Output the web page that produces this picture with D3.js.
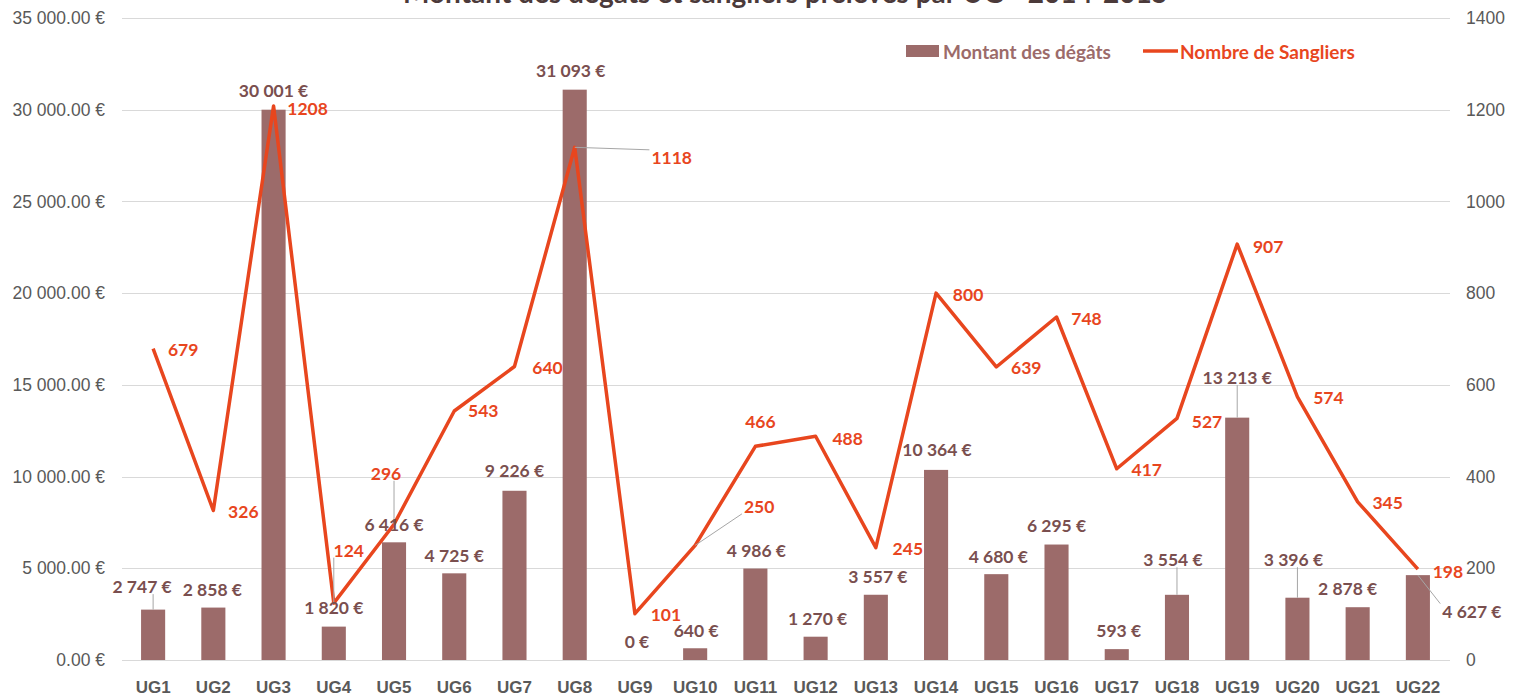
<!DOCTYPE html>
<html>
<head>
<meta charset="utf-8">
<script src="https://cdn.jsdelivr.net/npm/d3@7"></script>
<style>
  body { margin: 0; background: #fff; }
  svg { display: block; font-family: Lato, "Open Sans", sans-serif; }
</style>
</head>
<body>
<script>

// data //
const categories = ["UG1","UG2","UG3","UG4","UG5","UG6","UG7","UG8","UG9","UG10","UG11",
                    "UG12","UG13","UG14","UG15","UG16","UG17","UG18","UG19","UG20","UG21","UG22"];
const degats = [2747, 2858, 30001, 1820, 6416, 4725, 9226, 31093, 0, 640, 4986,
                1270, 3557, 10364, 4680, 6295, 593, 3554, 13213, 3396, 2878, 4627];
const sangliers = [679, 326, 1208, 124, 296, 543, 640, 1118, 101, 250, 466,
                   488, 245, 800, 639, 748, 417, 527, 907, 574, 345, 198];
const leftTicks = [0, 5000, 10000, 15000, 20000, 25000, 30000, 35000];
const rightTicks = [0, 200, 400, 600, 800, 1000, 1200, 1400];

// label placement (pixel nudges, as moved by hand in the original) //
const barLabelNudge = [[-11,-23],[-1,-18],[0,-19],[0,-19],[0,-18],[0,-18],[0,-20],[-4,-19],[2,-19],[1,-18],[1,-18],
                       [2,-18],[2,-18],[1,-20],[2,-18],[0,-19],[2,-19],[-4,-35],[0,-40],[-4,-38],[-10,-19],[54,36]];
const barLeader = [1,0,0,0,0,0,0,0,0,0,0, 0,0,0,0,0,0,1,1,1,0,1];
const lineLabelNudge = [[30,1],[30,1],[34,2],[15,-53],[-8,-51],[29,0],[33,1],[97,10],[31,1],[64,-39],[5,-25],
                        [32,2],[32,1],[32,1],[30,1],[30,2],[30,1],[30,3],[31,2],[31,1],[30,1],[30,2]];
const lineLeader = [0,0,0,1,1,0,0,1,0,1,0, 0,0,0,0,0,0,0,0,0,0,0];

const W = 1523, H = 699;
const plotLeft = 123, plotRight = 1448, plotTop = 18, plotBottom = 660;

const barColor = "#9c6b6a";
const lineColor = "#e8461e";
const barText = "#7a4f4f";
const axisText = "#595959";

const svg = d3.select("body").append("svg")
  .attr("width", W)
  .attr("height", H);

// scales //
const x = d3.scaleBand()
  .domain(categories)
  .range([plotLeft, plotRight])
  .paddingInner(0.6)
  .paddingOuter(0.3);

const yL = d3.scaleLinear().domain([0, 35000]).range([plotBottom, plotTop]);
const yR = d3.scaleLinear().domain([0, 1400]).range([plotBottom, plotTop]);

const fmtAxis = d => d3.format(",.2f")(d).replace(/,/g, " ") + " €";
const fmtBar = d => d3.format(",d")(d).replace(/,/g, " ") + " €";

// gridlines //
svg.append("g")
  .selectAll("line")
  .data(leftTicks)
  .join("line")
  .attr("x1", plotLeft - 1)
  .attr("x2", plotRight + 2)
  .attr("y1", d => Math.round(yL(d)) + 0.5)
  .attr("y2", d => Math.round(yL(d)) + 0.5)
  .attr("stroke", "#d9d9d9")
  .attr("stroke-width", 1);

// left axis //
const axL = svg.append("g")
  .attr("transform", "translate(" + (plotLeft - 18) + ",0)")
  .call(d3.axisLeft(yL).tickValues(leftTicks).tickFormat(fmtAxis).tickSize(0));
axL.select(".domain").remove();
axL.selectAll("text")
  .attr("fill", axisText)
  .style("font-size", "17.5px")
  .attr("x", 0);

// right axis //
const axR = svg.append("g")
  .attr("transform", "translate(" + (plotRight + 18) + ",0)")
  .call(d3.axisRight(yR).tickValues(rightTicks).tickFormat(d3.format("d")).tickSize(0));
axR.select(".domain").remove();
axR.selectAll("text")
  .attr("fill", axisText)
  .style("font-size", "17.5px")
  .attr("x", 0);

// x axis //
const axX = svg.append("g")
  .attr("transform", "translate(0," + plotBottom + ")")
  .call(d3.axisBottom(x).tickSize(0));
axX.select(".domain").remove();
axX.selectAll("text")
  .attr("fill", axisText)
  .attr("y", 21)
  .style("font-size", "17px")
  .style("font-weight", "bold");

// bars //
svg.append("g")
  .selectAll("rect")
  .data(degats)
  .join("rect")
  .attr("x", (d, i) => x(categories[i]))
  .attr("y", d => yL(d))
  .attr("width", x.bandwidth())
  .attr("height", d => plotBottom - yL(d))
  .attr("fill", barColor);

// line //
const line = d3.line()
  .x((d, i) => x(categories[i]) + x.bandwidth() / 2)
  .y(d => yR(d));

svg.append("path")
  .datum(sangliers)
  .attr("fill", "none")
  .attr("stroke", lineColor)
  .attr("stroke-width", 3.5)
  .attr("stroke-linejoin", "round")
  .attr("d", line);

// labels with optional leader lines //
const leaderG = svg.append("g");
const labelG = svg.append("g");

function addLabel(ax, ay, nudge, txt, color, leader) {
  const t = labelG.append("text")
    .attr("x", ax + nudge[0])
    .attr("y", ay + nudge[1])
    .attr("text-anchor", "middle")
    .attr("dominant-baseline", "central")
    .attr("fill", color)
    .style("font-size", "17.5px")
    .style("font-weight", "bold")
    .text(txt);
  if (leader) {
    const b = t.node().getBBox();
    const pad = 2;
    const bx = Math.max(b.x - pad, Math.min(ax, b.x + b.width + pad));
    const by = Math.max(b.y + 3, Math.min(ay, b.y + b.height - 3));
    leaderG.append("line")
      .attr("x1", ax).attr("y1", ay)
      .attr("x2", bx).attr("y2", by)
      .attr("stroke", "#a6a6a6")
      .attr("stroke-width", 1);
  }
}

degats.forEach((d, i) => {
  addLabel(x(categories[i]) + x.bandwidth() / 2, yL(d), barLabelNudge[i], fmtBar(d), barText, barLeader[i]);
});
sangliers.forEach((d, i) => {
  addLabel(x(categories[i]) + x.bandwidth() / 2, yR(d), lineLabelNudge[i], d, lineColor, lineLeader[i]);
});

// title (cut off at top like the original) //
svg.append("text")
  .attr("x", (plotLeft + plotRight) / 2)
  .attr("y", 3)
  .attr("text-anchor", "middle")
  .attr("fill", "#4b3a3a")
  .style("font-size", "28px")
  .style("font-weight", "bold")
  .text("Montant des dégâts et sangliers prélevés par UG - 2014-2015");

// legend //
const legend = svg.append("g");
legend.append("rect")
  .attr("x", 906).attr("y", 45)
  .attr("width", 33).attr("height", 12)
  .attr("fill", barColor);
legend.append("text")
  .attr("x", 943).attr("y", 51)
  .attr("dominant-baseline", "central")
  .attr("fill", barColor)
  .style("font-size", "19px")
  .style("font-weight", "bold")
  .text("Montant des dégâts");
legend.append("line")
  .attr("x1", 1143).attr("x2", 1178)
  .attr("y1", 51).attr("y2", 51)
  .attr("stroke", lineColor)
  .attr("stroke-width", 3.5);
legend.append("text")
  .attr("x", 1180).attr("y", 51)
  .attr("dominant-baseline", "central")
  .attr("fill", lineColor)
  .style("font-size", "19px")
  .style("font-weight", "bold")
  .text("Nombre de Sangliers");

</script>
</body>
</html>
